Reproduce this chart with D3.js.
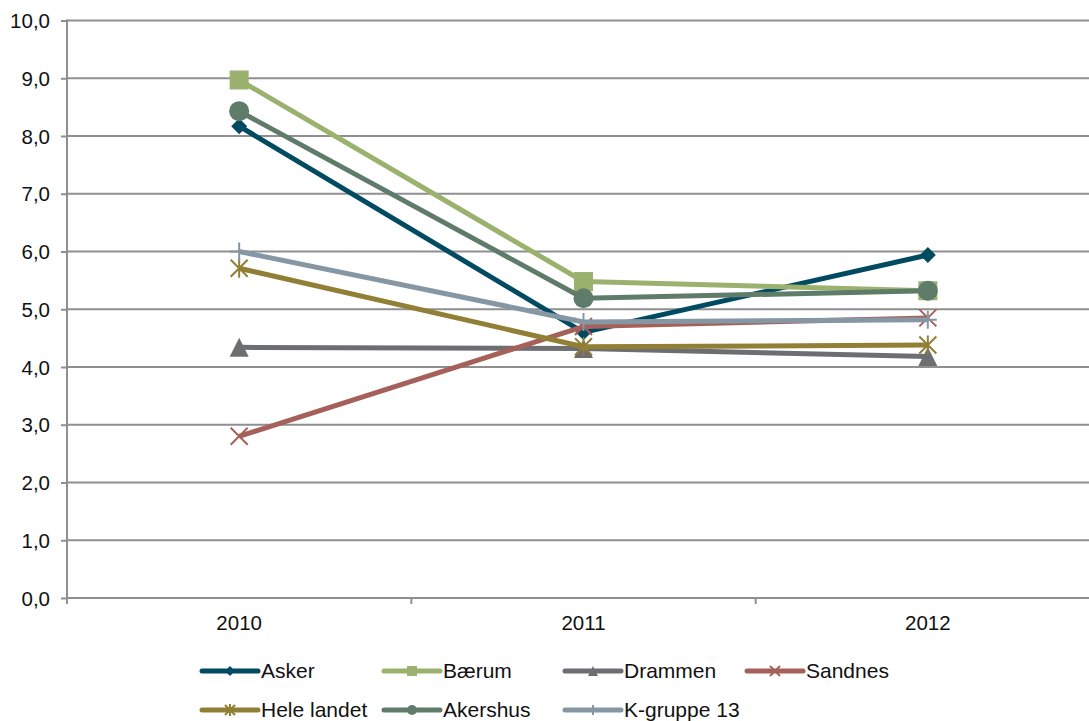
<!DOCTYPE html>
<html><head><meta charset="utf-8">
<script src="https://cdn.jsdelivr.net/npm/d3@7"></script>
<style>
body{margin:0;background:#fff;}
svg{display:block;font-family:"Liberation Sans",Arial,sans-serif;}
</style></head>
<body><svg id="c" width="1089" height="721"></svg>
<script>
const years = ["2010","2011","2012"];
const seriesNames = ["Asker","Bærum","Drammen","Sandnes","Hele landet","Akershus","K-gruppe 13"];
const asker = [8.17, 4.6, 5.94];
const baerum = [8.97, 5.48, 5.32];
const drammen = [4.34, 4.32, 4.18];
const sandnes = [2.8, 4.7, 4.85];
const heleLandet = [5.71, 4.35, 4.38];
const akershus = [8.43, 5.19, 5.32];
const kgruppe13 = [6.0, 4.78, 4.82];
const yTicks = [0,1,2,3,4,5,6,7,8,9,10];

const colors = ["#004b61","#9bb26e","#6d6e71","#a6605a","#927f36","#5f7b69","#8597a4"];
const markers = ["diamond","square","triangle","x","star","circle","plus"];
const values = [asker, baerum, drammen, sandnes, heleLandet, akershus, kgruppe13];

const svg = d3.select("#c");
const pLeft = 67, pRight = 1100, pTop = 20.5, pBottom = 598;
const x = d3.scaleBand().domain(years).range([pLeft, pRight]);
const y = d3.scaleLinear().domain([0,10]).range([pBottom, pTop]);
const fmt = v => d3.format(".1f")(v).replace(".", ",");
const gridColor = "#8f8f8f";

// gridlines
svg.append("g").selectAll("line").data(yTicks.filter(d=>d>0)).join("line")
  .attr("x1", pLeft).attr("x2", 1089).attr("y1", d=>y(d)).attr("y2", d=>y(d))
  .attr("stroke", gridColor).attr("stroke-width", 2);

// y axis
const ya = svg.append("g").attr("transform", `translate(${pLeft},0)`)
  .call(d3.axisLeft(y).tickValues(yTicks).tickFormat(fmt).tickSize(6).tickPadding(11));
ya.select(".domain").attr("stroke", gridColor).attr("stroke-width", 2).attr("d", `M0,${pTop-1}V${pBottom+6}`);
ya.selectAll(".tick line").attr("stroke", gridColor).attr("stroke-width", 2);
ya.selectAll(".tick text").attr("font-size", 20.5).attr("fill", "#111").attr("dy", "0.35em")
  .attr("font-family", "'Liberation Sans',Arial,sans-serif");

// x axis
const xa = svg.append("g").attr("transform", `translate(0,${pBottom})`)
  .call(d3.axisBottom(x).tickSize(0).tickPadding(17));
xa.select(".domain").attr("stroke", gridColor).attr("stroke-width", 2).attr("d", `M${pLeft},0H1089`);
xa.selectAll(".tick text").attr("font-size", 20.5).attr("fill", "#111")
  .attr("font-family", "'Liberation Sans',Arial,sans-serif");
// category boundary ticks
svg.append("g").selectAll("line").data(years.slice(1)).join("line")
  .attr("x1", d=>x(d)).attr("x2", d=>x(d)).attr("y1", pBottom).attr("y2", pBottom+6)
  .attr("stroke", gridColor).attr("stroke-width", 2);

function drawMarker(g, type, cx, cy, color, s) {
  const h = s/2;
  if (type === "diamond") {
    g.append("path").attr("d", `M${cx},${cy-h}L${cx+h},${cy}L${cx},${cy+h}L${cx-h},${cy}Z`).attr("fill", color);
  } else if (type === "square") {
    g.append("rect").attr("x", cx-h).attr("y", cy-h).attr("width", s).attr("height", s).attr("fill", color);
  } else if (type === "triangle") {
    g.append("path").attr("d", `M${cx},${cy-h}L${cx+h},${cy+h}L${cx-h},${cy+h}Z`).attr("fill", color);
  } else if (type === "circle") {
    g.append("circle").attr("cx", cx).attr("cy", cy).attr("r", h).attr("fill", color);
  } else if (type === "x") {
    g.append("path").attr("d", `M${cx-h},${cy-h}L${cx+h},${cy+h}M${cx+h},${cy-h}L${cx-h},${cy+h}`)
      .attr("stroke", color).attr("stroke-width", 2);
  } else if (type === "star") {
    g.append("path").attr("d", `M${cx-h},${cy-h}L${cx+h},${cy+h}M${cx+h},${cy-h}L${cx-h},${cy+h}M${cx},${cy-h-1}V${cy+h+1}`)
      .attr("stroke", color).attr("stroke-width", 2);
  } else if (type === "plus") {
    g.append("path").attr("d", `M${cx-h},${cy}H${cx+h}M${cx},${cy-h}V${cy+h}`)
      .attr("stroke", color).attr("stroke-width", 2);
  }
}

const msize = {diamond:16, square:19, triangle:19, circle:20, x:17, star:17, plus:18};
const line = d3.line().x((d,i)=>x(years[i]) + x.bandwidth()/2).y(d=>y(d));

values.forEach((vals, si) => {
  const g = svg.append("g");
  g.append("path").attr("d", line(vals)).attr("fill","none")
    .attr("stroke", colors[si]).attr("stroke-width", 5).attr("stroke-linejoin","round");
  vals.forEach((v,i) => drawMarker(g, markers[si], x(years[i]) + x.bandwidth()/2, y(v), colors[si], msize[markers[si]]));
});

// legend
const legX = [202, 384, 565, 747];
const legY = [671, 710];
const lg = svg.append("g");
seriesNames.forEach((name, i) => {
  const col = i < 4 ? i : i - 4;
  const row = i < 4 ? 0 : 1;
  const lx = legX[col], ly = legY[row];
  lg.append("line").attr("x1", lx).attr("x2", lx+56).attr("y1", ly).attr("y2", ly)
    .attr("stroke", colors[i]).attr("stroke-width", 5).attr("stroke-linecap","round");
  drawMarker(lg, markers[i], lx+28, ly, colors[i], 10);
  lg.append("text").attr("x", lx+59).attr("y", ly).attr("dy","0.35em")
    .attr("font-size", 21).attr("fill","#111").text(name);
});
</script></body></html>
